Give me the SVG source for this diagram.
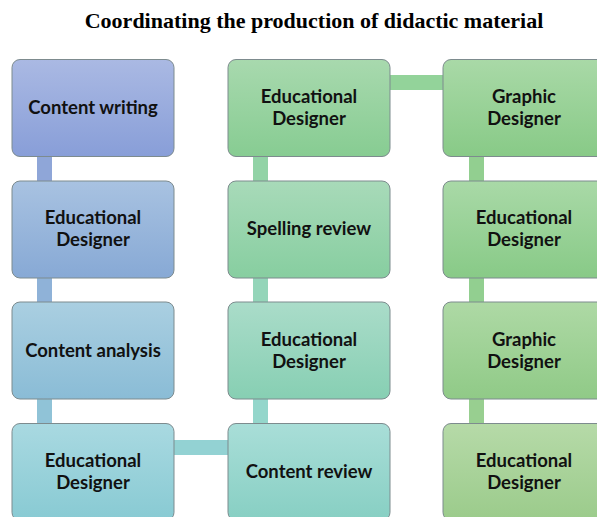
<svg xmlns="http://www.w3.org/2000/svg" width="597" height="517" viewBox="0 0 597 517">
<defs>
<linearGradient id="g1" x1="0" y1="0" x2="0" y2="1"><stop offset="0" stop-color="#aab9e3"/><stop offset="1" stop-color="#889ed8"/></linearGradient>
<linearGradient id="g2" x1="0" y1="0" x2="0" y2="1"><stop offset="0" stop-color="#a8c2e1"/><stop offset="1" stop-color="#87a9d5"/></linearGradient>
<linearGradient id="g3" x1="0" y1="0" x2="0" y2="1"><stop offset="0" stop-color="#aacfe1"/><stop offset="1" stop-color="#8abcd6"/></linearGradient>
<linearGradient id="g4" x1="0" y1="0" x2="0" y2="1"><stop offset="0" stop-color="#a9d9e1"/><stop offset="1" stop-color="#88cad3"/></linearGradient>
<linearGradient id="g5" x1="0" y1="0" x2="0" y2="1"><stop offset="0" stop-color="#a9ded8"/><stop offset="1" stop-color="#87cfc3"/></linearGradient>
<linearGradient id="g6" x1="0" y1="0" x2="0" y2="1"><stop offset="0" stop-color="#aadcc9"/><stop offset="1" stop-color="#87cfb3"/></linearGradient>
<linearGradient id="g7" x1="0" y1="0" x2="0" y2="1"><stop offset="0" stop-color="#a8dab9"/><stop offset="1" stop-color="#87cea0"/></linearGradient>
<linearGradient id="g8" x1="0" y1="0" x2="0" y2="1"><stop offset="0" stop-color="#a8d9ae"/><stop offset="1" stop-color="#87cc92"/></linearGradient>
<linearGradient id="g9" x1="0" y1="0" x2="0" y2="1"><stop offset="0" stop-color="#a9d9a7"/><stop offset="1" stop-color="#88ca87"/></linearGradient>
<linearGradient id="g10" x1="0" y1="0" x2="0" y2="1"><stop offset="0" stop-color="#a9d9a7"/><stop offset="1" stop-color="#88ca87"/></linearGradient>
<linearGradient id="g11" x1="0" y1="0" x2="0" y2="1"><stop offset="0" stop-color="#aed9a5"/><stop offset="1" stop-color="#90ca87"/></linearGradient>
<linearGradient id="g12" x1="0" y1="0" x2="0" y2="1"><stop offset="0" stop-color="#b6daa8"/><stop offset="1" stop-color="#9bcb8b"/></linearGradient>
</defs>
<style>
.box{stroke:#7d8b8e;stroke-width:1;}
.t{font-family:Lato,"Liberation Sans",sans-serif;font-weight:bold;font-size:18.5px;fill:#111;text-anchor:middle;}
.title{font-family:"Liberation Serif",serif;font-weight:bold;font-size:22px;fill:#000;text-anchor:middle;}
</style>
<text class="title" x="314" y="28">Coordinating the production of didactic material</text>
<g id="connectors">
<rect x="37" y="156" width="15" height="26" fill="#8fa6d8"/>
<rect x="37" y="277" width="15" height="26" fill="#8fb2d8"/>
<rect x="37" y="398" width="15" height="26" fill="#90c3d7"/>
<rect x="173" y="440" width="56" height="15" fill="#93d2d3"/>
<rect x="253" y="398" width="15" height="26" fill="#94d6cb"/>
<rect x="253" y="277" width="15" height="26" fill="#94d5b9"/>
<rect x="253" y="156" width="15" height="26" fill="#92d3a6"/>
<rect x="389" y="75" width="55" height="15" fill="#93d39a"/>
<rect x="469" y="156" width="15" height="26" fill="#92cf90"/>
<rect x="469" y="277" width="15" height="26" fill="#92cf90"/>
<rect x="469" y="398" width="15" height="26" fill="#98cf90"/>
</g>
<g id="n1"><rect class="box" x="12" y="59.5" width="162" height="97" rx="8" fill="url(#g1)"/><text class="t" x="93" y="114">Content writing</text></g>
<g id="n2"><rect class="box" x="12" y="181" width="162" height="97" rx="8" fill="url(#g2)"/><text class="t" x="93" y="224">Educational</text><text class="t" x="93" y="246">Designer</text></g>
<g id="n3"><rect class="box" x="12" y="302" width="162" height="97" rx="8" fill="url(#g3)"/><text class="t" x="93" y="357">Content analysis</text></g>
<g id="n4"><rect class="box" x="12" y="423.5" width="162" height="97" rx="8" fill="url(#g4)"/><text class="t" x="93" y="467">Educational</text><text class="t" x="93" y="489">Designer</text></g>
<g id="n5"><rect class="box" x="228" y="423.5" width="162" height="97" rx="8" fill="url(#g5)"/><text class="t" x="309" y="478">Content review</text></g>
<g id="n6"><rect class="box" x="228" y="302" width="162" height="97" rx="8" fill="url(#g6)"/><text class="t" x="309" y="346">Educational</text><text class="t" x="309" y="368">Designer</text></g>
<g id="n7"><rect class="box" x="228" y="181" width="162" height="97" rx="8" fill="url(#g7)"/><text class="t" x="309" y="235">Spelling review</text></g>
<g id="n8"><rect class="box" x="228" y="59.5" width="162" height="97" rx="8" fill="url(#g8)"/><text class="t" x="309" y="103">Educational</text><text class="t" x="309" y="125">Designer</text></g>
<g id="n9"><rect class="box" x="443" y="59.5" width="162" height="97" rx="8" fill="url(#g9)"/><text class="t" x="524" y="103">Graphic</text><text class="t" x="524" y="125">Designer</text></g>
<g id="n10"><rect class="box" x="443" y="181" width="162" height="97" rx="8" fill="url(#g10)"/><text class="t" x="524" y="224">Educational</text><text class="t" x="524" y="246">Designer</text></g>
<g id="n11"><rect class="box" x="443" y="302" width="162" height="97" rx="8" fill="url(#g11)"/><text class="t" x="524" y="346">Graphic</text><text class="t" x="524" y="368">Designer</text></g>
<g id="n12"><rect class="box" x="443" y="423.5" width="162" height="97" rx="8" fill="url(#g12)"/><text class="t" x="524" y="467">Educational</text><text class="t" x="524" y="489">Designer</text></g>
</svg>
